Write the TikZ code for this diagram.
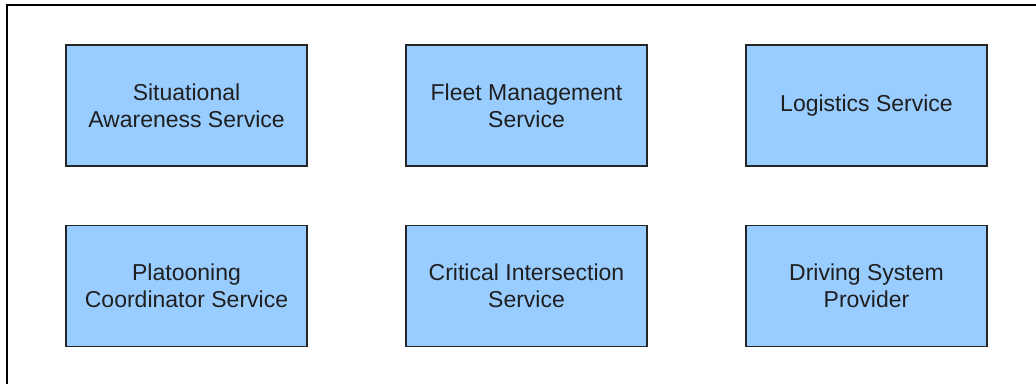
\documentclass[tikz,border=0pt]{standalone}
\usepackage{fontspec}
\setmainfont{Liberation Sans}
\definecolor{boxblue}{HTML}{99CCFF}
\tikzset{service/.style={draw=black!85, line width=0.6pt, fill=boxblue,
    minimum width=120.5pt, minimum height=60.5pt, inner sep=0pt, align=center,
    text=black!88, font=\fontsize{11.5}{13.5}\selectfont}}
\begin{document}
\begin{tikzpicture}[x=0.5pt,y=-0.5pt]
  \useasboundingbox (0,0) rectangle (1036,384);
  \draw[line width=0.8pt] (7,384) |- (1036,5);

  \path (186.5,105.5) node[service](sas) {Situational\\Awareness Service}
        (526.5,105.5) node[service](fms) {Fleet Management\\Service}
        (866.5,105.5) node[service](logs) {Logistics Service};
  \path (186.5,286) node[service](pcs) {Platooning\\Coordinator Service}
        (526.5,286) node[service](cis) {Critical Intersection\\Service}
        (866.5,286) node[service](dsp) {Driving System\\Provider};
\end{tikzpicture}
\end{document}
